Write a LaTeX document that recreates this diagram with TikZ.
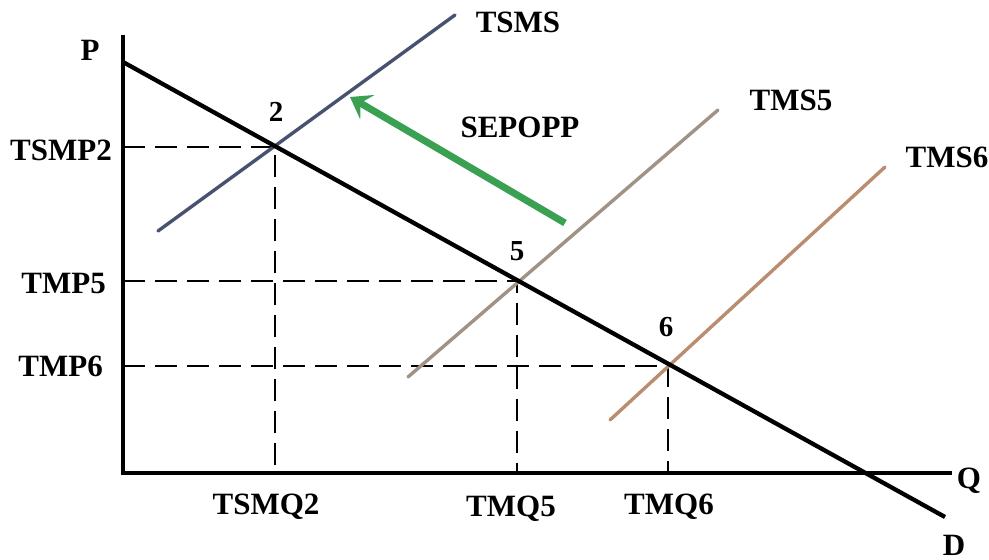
\documentclass[tikz,border=0pt]{standalone}
\usepackage{fontspec}
\setmainfont{Liberation Serif}
\usetikzlibrary{arrows.meta}
\definecolor{tsmscol}{RGB}{72,82,112}
\definecolor{tms5col}{RGB}{160,146,132}
\definecolor{tms6col}{RGB}{186,140,112}
\definecolor{arrowgreen}{RGB}{58,160,82}
\begin{document}
\begin{tikzpicture}[x=1pt,y=-1pt,
  lbl/.style={font=\fontsize{31}{31}\selectfont\bfseries, inner sep=0pt},
  ptlbl/.style={font=\fontsize{29}{29}\selectfont\bfseries, inner sep=0pt},
  axisline/.style={line width=4.5pt, black},
  demand/.style={line width=4.3pt, black},
  supply/.style={line width=3.4pt, line cap=round},
  guide/.style={line width=2.6pt, dash pattern=on 22pt off 10pt}]
\useasboundingbox (0,0) rectangle (989,560);
% axes
\coordinate (O) at (123,473);
\coordinate (Ptop) at (123,35);
\coordinate (Qend) at (952,473);
\draw[axisline] (Ptop) -- (O) -- (Qend);
% equilibrium points
\coordinate (E2) at (275,147);
\coordinate (E5) at (517,281);
\coordinate (E6) at (668,366);
% guides
\coordinate (Y2) at (123,147);
\coordinate (Y5) at (123,281);
\coordinate (Y6) at (123,366);
\coordinate (X2) at (275,473);
\coordinate (X5) at (517,473);
\coordinate (X6) at (668,473);
\draw[guide] (Y2) -- (E2) -- (X2);
\draw[guide] (Y5) -- (E5) -- (X5);
\draw[guide] (Y6) -- (E6) -- (X6);
% supply curves
\coordinate (S2a) at (158,231);
\coordinate (S2b) at (455,15);
\coordinate (S5a) at (408,377);
\coordinate (S5b) at (718,110);
\coordinate (S6a) at (610,420);
\coordinate (S6b) at (885,167);
\draw[supply, tsmscol] (S2a) -- (S2b);
\draw[supply, tms5col] (S5a) -- (S5b);
\draw[supply, tms6col] (S6a) -- (S6b);
% demand
\coordinate (Da) at (123,62);
\coordinate (Db) at (945,517);
\draw[demand] (Da) -- (Db);
% arrow
\coordinate (Ga) at (565,223);
\coordinate (Gb) at (350,97);
\draw[arrowgreen, line width=7pt, -{Stealth[length=20pt,width=28pt,inset=8pt]}] (Ga) -- (Gb);
% labels
\node[lbl] (lP) at (90,50) {P};
\node[lbl, anchor=east] (lTSMP2) at (112,150) {TSMP2};
\node[lbl, anchor=east] (lTMP5) at (106,283) {TMP5};
\node[lbl, anchor=east] (lTMP6) at (103,366) {TMP6};
\node[lbl] (lTSMQ2) at (266,507) {TSMQ2};
\node[lbl] (lTMQ5) at (511,509) {TMQ5};
\node[lbl] (lTMQ6) at (669,507) {TMQ6};
\node[lbl] (lQ) at (969,481) {Q};
\node[lbl] (lD) at (954,545) {D};
\node[lbl] (lTSMS) at (518,22) {TSMS};
\node[lbl] (lTMS5) at (791,100) {TMS5};
\node[lbl] (lTMS6) at (947,157) {TMS6};
\node[lbl] (lSEP) at (520,127) {SEPOPP};
\node[ptlbl] (l2) at (276,112) {2};
\node[ptlbl] (l5) at (517,251) {5};
\node[ptlbl] (l6) at (666,327) {6};
\end{tikzpicture}
\end{document}
